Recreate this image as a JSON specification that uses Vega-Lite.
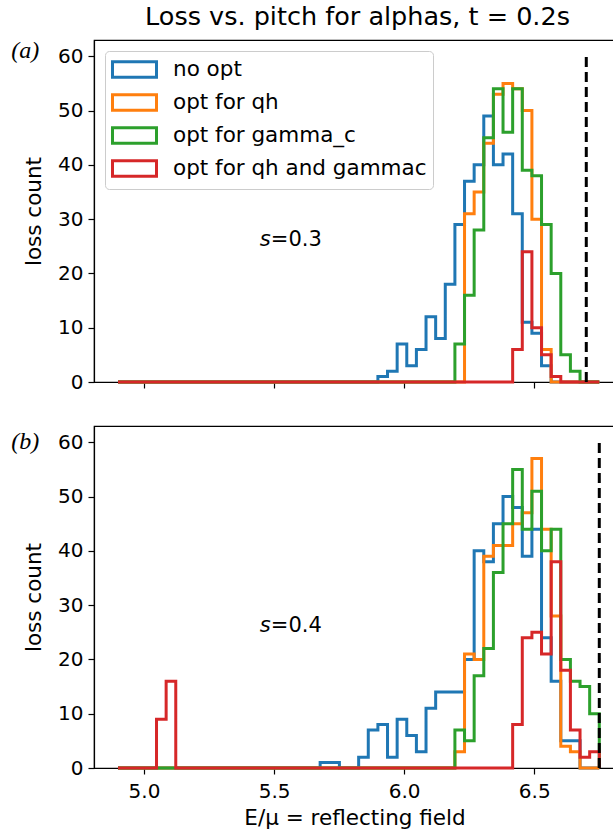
{
"$schema": "https://vega.github.io/schema/vega-lite/v6.json",
"padding": {"left": 10, "top": 4, "right": 0, "bottom": 0},
"spacing": 32,
"datasets": {
"hist": [
{"p":"a","s":"no opt","x":4.9,"c":0},{"p":"a","s":"no opt","x":5.899,"c":1},{"p":"a","s":"no opt","x":5.936,"c":2},{"p":"a","s":"no opt","x":5.973,"c":7},{"p":"a","s":"no opt","x":6.01,"c":3},{"p":"a","s":"no opt","x":6.047,"c":6},{"p":"a","s":"no opt","x":6.084,"c":12},{"p":"a","s":"no opt","x":6.121,"c":8},{"p":"a","s":"no opt","x":6.158,"c":18},{"p":"a","s":"no opt","x":6.195,"c":29},{"p":"a","s":"no opt","x":6.232,"c":37},{"p":"a","s":"no opt","x":6.269,"c":40},{"p":"a","s":"no opt","x":6.306,"c":49},{"p":"a","s":"no opt","x":6.343,"c":40},{"p":"a","s":"no opt","x":6.38,"c":42},{"p":"a","s":"no opt","x":6.417,"c":31},{"p":"a","s":"no opt","x":6.454,"c":11},{"p":"a","s":"no opt","x":6.491,"c":9},{"p":"a","s":"no opt","x":6.528,"c":3},{"p":"a","s":"no opt","x":6.565,"c":0},{"p":"a","s":"no opt","x":6.75,"c":0},
{"p":"a","s":"opt for qh","x":4.9,"c":0},{"p":"a","s":"opt for qh","x":6.232,"c":31},{"p":"a","s":"opt for qh","x":6.269,"c":35},{"p":"a","s":"opt for qh","x":6.306,"c":44},{"p":"a","s":"opt for qh","x":6.343,"c":53},{"p":"a","s":"opt for qh","x":6.38,"c":55},{"p":"a","s":"opt for qh","x":6.417,"c":54},{"p":"a","s":"opt for qh","x":6.454,"c":50},{"p":"a","s":"opt for qh","x":6.491,"c":30},{"p":"a","s":"opt for qh","x":6.528,"c":6},{"p":"a","s":"opt for qh","x":6.565,"c":0},{"p":"a","s":"opt for qh","x":6.75,"c":0},
{"p":"a","s":"opt for gamma_c","x":4.9,"c":0},{"p":"a","s":"opt for gamma_c","x":6.195,"c":7},{"p":"a","s":"opt for gamma_c","x":6.232,"c":16},{"p":"a","s":"opt for gamma_c","x":6.269,"c":28},{"p":"a","s":"opt for gamma_c","x":6.306,"c":45},{"p":"a","s":"opt for gamma_c","x":6.343,"c":54},{"p":"a","s":"opt for gamma_c","x":6.38,"c":46},{"p":"a","s":"opt for gamma_c","x":6.417,"c":54},{"p":"a","s":"opt for gamma_c","x":6.454,"c":39},{"p":"a","s":"opt for gamma_c","x":6.491,"c":38},{"p":"a","s":"opt for gamma_c","x":6.528,"c":29},{"p":"a","s":"opt for gamma_c","x":6.565,"c":20},{"p":"a","s":"opt for gamma_c","x":6.602,"c":5},{"p":"a","s":"opt for gamma_c","x":6.639,"c":2},{"p":"a","s":"opt for gamma_c","x":6.676,"c":0},{"p":"a","s":"opt for gamma_c","x":6.75,"c":0},
{"p":"a","s":"opt for qh and gammac","x":4.9,"c":0},{"p":"a","s":"opt for qh and gammac","x":6.417,"c":6},{"p":"a","s":"opt for qh and gammac","x":6.454,"c":24},{"p":"a","s":"opt for qh and gammac","x":6.491,"c":10},{"p":"a","s":"opt for qh and gammac","x":6.528,"c":5},{"p":"a","s":"opt for qh and gammac","x":6.565,"c":1},{"p":"a","s":"opt for qh and gammac","x":6.602,"c":0},{"p":"a","s":"opt for qh and gammac","x":6.75,"c":0},
{"p":"b","s":"no opt","x":4.9,"c":0},{"p":"b","s":"no opt","x":5.677,"c":1},{"p":"b","s":"no opt","x":5.714,"c":1},{"p":"b","s":"no opt","x":5.751,"c":0},{"p":"b","s":"no opt","x":5.825,"c":2},{"p":"b","s":"no opt","x":5.862,"c":7},{"p":"b","s":"no opt","x":5.899,"c":8},{"p":"b","s":"no opt","x":5.936,"c":2},{"p":"b","s":"no opt","x":5.973,"c":9},{"p":"b","s":"no opt","x":6.01,"c":6},{"p":"b","s":"no opt","x":6.047,"c":3},{"p":"b","s":"no opt","x":6.084,"c":11},{"p":"b","s":"no opt","x":6.121,"c":14},{"p":"b","s":"no opt","x":6.158,"c":14},{"p":"b","s":"no opt","x":6.195,"c":14},{"p":"b","s":"no opt","x":6.232,"c":20},{"p":"b","s":"no opt","x":6.269,"c":40},{"p":"b","s":"no opt","x":6.306,"c":38},{"p":"b","s":"no opt","x":6.343,"c":45},{"p":"b","s":"no opt","x":6.38,"c":50},{"p":"b","s":"no opt","x":6.417,"c":48},{"p":"b","s":"no opt","x":6.454,"c":39},{"p":"b","s":"no opt","x":6.491,"c":44},{"p":"b","s":"no opt","x":6.528,"c":24},{"p":"b","s":"no opt","x":6.565,"c":16},{"p":"b","s":"no opt","x":6.602,"c":5},{"p":"b","s":"no opt","x":6.639,"c":5},{"p":"b","s":"no opt","x":6.676,"c":0},{"p":"b","s":"no opt","x":6.75,"c":0},
{"p":"b","s":"opt for qh","x":4.9,"c":0},{"p":"b","s":"opt for qh","x":6.195,"c":3},{"p":"b","s":"opt for qh","x":6.232,"c":21},{"p":"b","s":"opt for qh","x":6.269,"c":20},{"p":"b","s":"opt for qh","x":6.306,"c":39},{"p":"b","s":"opt for qh","x":6.343,"c":41},{"p":"b","s":"opt for qh","x":6.38,"c":41},{"p":"b","s":"opt for qh","x":6.417,"c":45},{"p":"b","s":"opt for qh","x":6.454,"c":47},{"p":"b","s":"opt for qh","x":6.491,"c":57},{"p":"b","s":"opt for qh","x":6.528,"c":44},{"p":"b","s":"opt for qh","x":6.565,"c":28},{"p":"b","s":"opt for qh","x":6.602,"c":4},{"p":"b","s":"opt for qh","x":6.639,"c":3},{"p":"b","s":"opt for qh","x":6.676,"c":0},{"p":"b","s":"opt for qh","x":6.75,"c":0},
{"p":"b","s":"opt for gamma_c","x":4.9,"c":0},{"p":"b","s":"opt for gamma_c","x":6.195,"c":7},{"p":"b","s":"opt for gamma_c","x":6.232,"c":5},{"p":"b","s":"opt for gamma_c","x":6.269,"c":17},{"p":"b","s":"opt for gamma_c","x":6.306,"c":22},{"p":"b","s":"opt for gamma_c","x":6.343,"c":36},{"p":"b","s":"opt for gamma_c","x":6.38,"c":45},{"p":"b","s":"opt for gamma_c","x":6.417,"c":55},{"p":"b","s":"opt for gamma_c","x":6.454,"c":44},{"p":"b","s":"opt for gamma_c","x":6.491,"c":51},{"p":"b","s":"opt for gamma_c","x":6.528,"c":40},{"p":"b","s":"opt for gamma_c","x":6.565,"c":44},{"p":"b","s":"opt for gamma_c","x":6.602,"c":20},{"p":"b","s":"opt for gamma_c","x":6.639,"c":16},{"p":"b","s":"opt for gamma_c","x":6.676,"c":15},{"p":"b","s":"opt for gamma_c","x":6.713,"c":10},{"p":"b","s":"opt for gamma_c","x":6.75,"c":0},
{"p":"b","s":"opt for qh and gammac","x":4.9,"c":0},{"p":"b","s":"opt for qh and gammac","x":5.048,"c":9},{"p":"b","s":"opt for qh and gammac","x":5.085,"c":16},{"p":"b","s":"opt for qh and gammac","x":5.122,"c":0},{"p":"b","s":"opt for qh and gammac","x":6.417,"c":8},{"p":"b","s":"opt for qh and gammac","x":6.454,"c":24},{"p":"b","s":"opt for qh and gammac","x":6.491,"c":25},{"p":"b","s":"opt for qh and gammac","x":6.528,"c":21},{"p":"b","s":"opt for qh and gammac","x":6.565,"c":38},{"p":"b","s":"opt for qh and gammac","x":6.602,"c":18},{"p":"b","s":"opt for qh and gammac","x":6.639,"c":7},{"p":"b","s":"opt for qh and gammac","x":6.676,"c":2},{"p":"b","s":"opt for qh and gammac","x":6.713,"c":3},{"p":"b","s":"opt for qh and gammac","x":6.75,"c":0}
],
"vline": [{"p":"a","x":6.7,"y0":0,"y1":60},{"p":"b","x":6.75,"y0":0,"y1":60}],
"notes": [{"p":"a","lab":"(a)","x":4.49,"y":61,"sx":5.445,"sy":25,"s":"s","t":"=0.3"},{"p":"b","lab":"(b)","x":4.49,"y":60,"sx":5.445,"sy":25,"s":"s","t":"=0.4"}]
},
"config": {
"font": "DejaVu Sans",
"view": {"stroke": "black", "strokeWidth": 1.2},
"axis": {"grid": false, "domainColor": "black", "tickColor": "black", "labelColor": "black", "titleColor": "black", "labelFontSize": 20, "titleFontSize": 21.5, "titleFontWeight": "normal", "tickSize": 6, "domainWidth": 1.2, "tickWidth": 1.2, "labelFont": "DejaVu Sans", "titleFont": "DejaVu Sans"},
"legend": {"orient": "top-left", "offset": 11, "symbolType": "M-2,-0.7H2V0.7H-2Z", "symbolSize": 484, "symbolOffset": 11, "symbolStrokeWidth": 3, "symbolFillColor": "white", "labelFontSize": 21.5, "labelColor": "black", "labelFont": "DejaVu Sans", "labelOffset": 26, "rowPadding": 4, "padding": 6, "strokeColor": "#cccccc", "fillColor": "white", "cornerRadius": 4, "labelLimit": 400},
"title": {"fontSize": 25.5, "fontWeight": "normal", "font": "DejaVu Sans", "color": "black", "anchor": "middle", "offset": 8}
},
"vconcat": [
{
"width": 521, "height": 342,
"title": {"text": "Loss vs. pitch for alphas, t = 0.2s", "dx": 3},
"resolve": {"scale": {"color": "independent"}, "legend": {"color": "independent"}},
"layer": [
{"data": {"name": "hist"}, "transform": [{"filter": "datum.p == 'a'"}],
 "mark": {"type": "line", "interpolate": "step-after", "strokeWidth": 3},
 "encoding": {
  "x": {"field": "x", "type": "quantitative", "scale": {"domain": [4.8077, 6.8104], "nice": false, "zero": false}, "axis": {"values": [5.0, 5.5, 6.0, 6.5], "labels": false, "title": null}},
  "y": {"field": "c", "type": "quantitative", "scale": {"domain": [0, 63], "nice": false}, "axis": {"values": [0,10,20,30,40,50,60], "title": "loss count", "labelPadding": 5, "titlePadding": 12}},
  "color": {"field": "s", "type": "nominal", "sort": null, "scale": {"domain": ["no opt", "opt for qh", "opt for gamma_c", "opt for qh and gammac"], "range": ["#1f77b4", "#ff7f0e", "#2ca02c", "#d62728"]}, "legend": {"title": null}}
 }},
{"data": {"name": "vline"}, "transform": [{"filter": "datum.p == 'a'"}],
 "mark": {"type": "rule", "color": "black", "strokeWidth": 3, "strokeDash": [10, 5]},
 "encoding": {"x": {"field": "x", "type": "quantitative", "scale": {"domain": [4.8077, 6.8104], "nice": false, "zero": false}}, "y": {"field": "y0", "type": "quantitative"}, "y2": {"field": "y1"}}},
{"data": {"name": "notes"}, "transform": [{"filter": "datum.p == 'a'"}],
 "mark": {"type": "text", "align": "left", "baseline": "middle", "font": "Liberation Serif", "fontSize": 24, "fontStyle": "italic", "color": "black"},
 "encoding": {"x": {"field": "x", "type": "quantitative", "scale": {"domain": [4.8077, 6.8104], "nice": false, "zero": false}}, "y": {"field": "y", "type": "quantitative"}, "text": {"field": "lab"}}},
{"data": {"name": "notes"}, "transform": [{"filter": "datum.p == 'a'"}],
 "mark": {"type": "text", "align": "left", "baseline": "alphabetic", "fontSize": 21, "fontStyle": "italic", "color": "black"},
 "encoding": {"x": {"field": "sx", "type": "quantitative", "scale": {"domain": [4.8077, 6.8104], "nice": false, "zero": false}}, "y": {"field": "sy", "type": "quantitative"}, "text": {"field": "s"}}},
{"data": {"name": "notes"}, "transform": [{"filter": "datum.p == 'a'"}],
 "mark": {"type": "text", "align": "left", "baseline": "alphabetic", "fontSize": 21, "dx": 11, "color": "black"},
 "encoding": {"x": {"field": "sx", "type": "quantitative", "scale": {"domain": [4.8077, 6.8104], "nice": false, "zero": false}}, "y": {"field": "sy", "type": "quantitative"}, "text": {"field": "t"}}}
]
},
{
"width": 521, "height": 342,
"resolve": {"scale": {"color": "independent"}, "legend": {"color": "independent"}},
"layer": [
{"data": {"name": "hist"}, "transform": [{"filter": "datum.p == 'b'"}],
 "mark": {"type": "line", "interpolate": "step-after", "strokeWidth": 3},
 "encoding": {
  "x": {"field": "x", "type": "quantitative", "scale": {"domain": [4.8077, 6.8104], "nice": false, "zero": false}, "axis": {"values": [5.0, 5.5, 6.0, 6.5], "format": ".1f", "title": "E/μ = reflecting field", "labelPadding": 7, "titlePadding": 6}},
  "y": {"field": "c", "type": "quantitative", "scale": {"domain": [0, 63], "nice": false}, "axis": {"values": [0,10,20,30,40,50,60], "title": "loss count", "labelPadding": 5, "titlePadding": 12}},
  "color": {"field": "s", "type": "nominal", "sort": null, "scale": {"domain": ["no opt", "opt for qh", "opt for gamma_c", "opt for qh and gammac"], "range": ["#1f77b4", "#ff7f0e", "#2ca02c", "#d62728"]}, "legend": null}
 }},
{"data": {"name": "vline"}, "transform": [{"filter": "datum.p == 'b'"}],
 "mark": {"type": "rule", "color": "black", "strokeWidth": 3, "strokeDash": [10, 5]},
 "encoding": {"x": {"field": "x", "type": "quantitative", "scale": {"domain": [4.8077, 6.8104], "nice": false, "zero": false}}, "y": {"field": "y0", "type": "quantitative"}, "y2": {"field": "y1"}}},
{"data": {"name": "notes"}, "transform": [{"filter": "datum.p == 'b'"}],
 "mark": {"type": "text", "align": "left", "baseline": "middle", "font": "Liberation Serif", "fontSize": 24, "fontStyle": "italic", "color": "black"},
 "encoding": {"x": {"field": "x", "type": "quantitative", "scale": {"domain": [4.8077, 6.8104], "nice": false, "zero": false}}, "y": {"field": "y", "type": "quantitative"}, "text": {"field": "lab"}}},
{"data": {"name": "notes"}, "transform": [{"filter": "datum.p == 'b'"}],
 "mark": {"type": "text", "align": "left", "baseline": "alphabetic", "fontSize": 21, "fontStyle": "italic", "color": "black"},
 "encoding": {"x": {"field": "sx", "type": "quantitative", "scale": {"domain": [4.8077, 6.8104], "nice": false, "zero": false}}, "y": {"field": "sy", "type": "quantitative"}, "text": {"field": "s"}}},
{"data": {"name": "notes"}, "transform": [{"filter": "datum.p == 'b'"}],
 "mark": {"type": "text", "align": "left", "baseline": "alphabetic", "fontSize": 21, "dx": 11, "color": "black"},
 "encoding": {"x": {"field": "sx", "type": "quantitative", "scale": {"domain": [4.8077, 6.8104], "nice": false, "zero": false}}, "y": {"field": "sy", "type": "quantitative"}, "text": {"field": "t"}}}
]
}
]
}
